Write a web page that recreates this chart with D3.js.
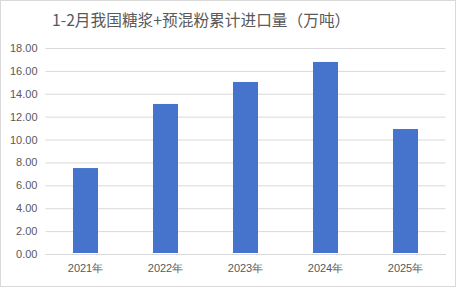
<!DOCTYPE html>
<html>
<head>
<meta charset="utf-8">
<script src="https://cdn.jsdelivr.net/npm/d3@7"></script>
<style>
  body { margin: 0; background: #fff; }
  svg { display: block; font-family: "Noto Sans CJK SC", "Noto Sans", sans-serif; }
</style>
</head>
<body>
<div id="chart"></div>
<script>
var TITLE = '1-2月我国糖浆+预混粉累计进口量（万吨）'
var YEARS = ['2021年', '2022年', '2023年', '2024年', '2025年']
var IMPORTS = [7.51, 13.11, 15.03, 16.78, 10.92]
var Y_TICKS = [0, 2, 4, 6, 8, 10, 12, 14, 16, 18]

var W = 461, H = 288
var margin = {top: 48, right: 16, bottom: 34, left: 45.5},
    width = 445.5 - margin.left,
    height = 254 - margin.top;

var svg = d3.select("#chart")
    .append("svg")
    .attr("width", W)
    .attr("height", H);

// outer frame
svg.append("rect")
    .attr("x", 0.5).attr("y", 0.5)
    .attr("width", 455).attr("height", 286)
    .attr("fill", "#fff")
    .attr("stroke", "#d9d9d9");

svg.append("text")
    .attr("x", 52)
    .attr("y", 25.5)
    .attr("fill", "#595959")
    .style("font-size", "15.7px")
    .text(TITLE);

var g = svg.append("g")
    .attr("transform", "translate(" + margin.left + "," + margin.top + ")");

var x = d3.scaleBand()
    .domain(YEARS)
    .range([0, width])
    .paddingInner(0.6875)
    .paddingOuter(0.34375);

var y = d3.scaleLinear()
    .domain([0, 18])
    .range([height, 0]);

// gridlines + y labels
var yAxis = g.append("g")
    .call(d3.axisLeft(y).tickValues(Y_TICKS).tickSize(-width).tickPadding(8)
        .tickFormat(d3.format(".2f")));
yAxis.select(".domain").remove();
yAxis.selectAll("line").attr("stroke", "#d9d9d9");
yAxis.selectAll("text")
    .attr("fill", "#595959")
    .style("font-size", "11px")
    .style("font-family", "'Liberation Sans', 'Noto Sans', sans-serif");

g.selectAll("rect.bar")
    .data(IMPORTS)
    .enter()
    .append("rect")
    .attr("class", "bar")
    .attr("x", function(d, i) { return x(YEARS[i]); })
    .attr("y", function(d) { return y(d); })
    .attr("width", x.bandwidth())
    .attr("height", function(d) { return height - y(d) - 1; })
    .attr("fill", "#4674cc");

var xAxis = g.append("g")
    .attr("transform", "translate(0," + height + ")")
    .call(d3.axisBottom(x).tickSize(0).tickPadding(10));
xAxis.select(".domain").attr("stroke", "#d9d9d9");
xAxis.selectAll("text")
    .attr("fill", "#595959")
    .style("font-size", "11px");
</script>
</body>
</html>
